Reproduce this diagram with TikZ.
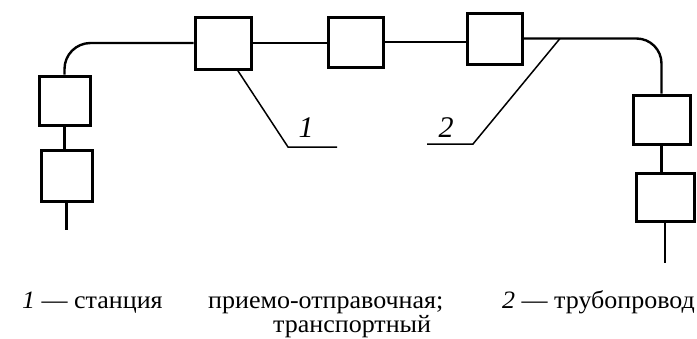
\documentclass[tikz,border=0pt]{standalone}
\usepackage{fontspec}
\setmainfont{Liberation Serif}
\newfontfamily\capfont[FakeStretch=1.04]{Liberation Serif}
\usetikzlibrary{calc}
\begin{document}
\begin{tikzpicture}[x=1pt,y=-1pt,
  box/.style={draw, line width=3pt, inner sep=0pt, fill=white},
  conn/.style={line width=2.4pt},
  leader/.style={line width=1.5pt},
  lbl/.style={font=\fontsize{30}{30}\selectfont\itshape, anchor=base, inner sep=0pt},
  captext/.style={font=\capfont\fontsize{25}{21}\selectfont, anchor=base west, inner sep=0pt}]
\useasboundingbox (0,0) rectangle (697,338);
% boxes
\node[box, minimum width=51pt, minimum height=49pt] (A) at (64.5,100.5) {};
\node[box, minimum width=51pt, minimum height=51pt] (B) at (66.5,175.5) {};
\node[box, minimum width=56pt, minimum height=52pt] (C) at (223,43) {};
\node[box, minimum width=55pt, minimum height=50pt] (D) at (355.5,42) {};
\node[box, minimum width=55pt, minimum height=51pt] (E) at (494.5,38.5) {};
\node[box, minimum width=57pt, minimum height=49pt] (F) at (661.5,119.5) {};
\node[box, minimum width=58pt, minimum height=48pt] (G) at (665,197) {};
\coordinate (tB) at (66.5,230);
\coordinate (tG) at (665,263);
% connectors
\draw[conn, rounded corners=26pt] (A.north) |- (C.west);
\draw[conn] (A.south) -- (A.south |- B.north);
\draw[conn] (B.south) -- (tB);
\draw[conn] (C.east) -- (C.east -| D.west);
\draw[conn] (D.east) -- (D.east -| E.west);
\draw[conn, rounded corners=25pt] (E.east) -| (F.north);
\draw[conn] (F.south) -- (F.south |- G.north);
\draw[conn] (G.south) -- (tG);
% leaders
\coordinate (l1a) at ($(C.south west)!0.75!(C.south east)$);
\coordinate (l1b) at (288,147);
\coordinate (l1c) at (337,147);
\draw[leader] (l1a) -- (l1b) -- (l1c);
\coordinate (l2a) at (560,38.5);
\coordinate (l2b) at (473,144);
\coordinate (l2c) at (427,144);
\draw[leader] (l2a) -- (l2b) -- (l2c);
\node[lbl] (n1) at (306,137) {1};
\node[lbl] (n2) at (446,137) {2};
% caption
\node[captext] (c1) at (22,308.5) {{\itshape 1} — станция};
\node[captext] (c2) at (208,308.5) {приемо-отправочная;};
\node[captext] (c3) at (273,332.5) {транспортный};
\node[captext] (c4) at (502,308.5) {{\itshape 2} — трубопровод};
\end{tikzpicture}
\end{document}
